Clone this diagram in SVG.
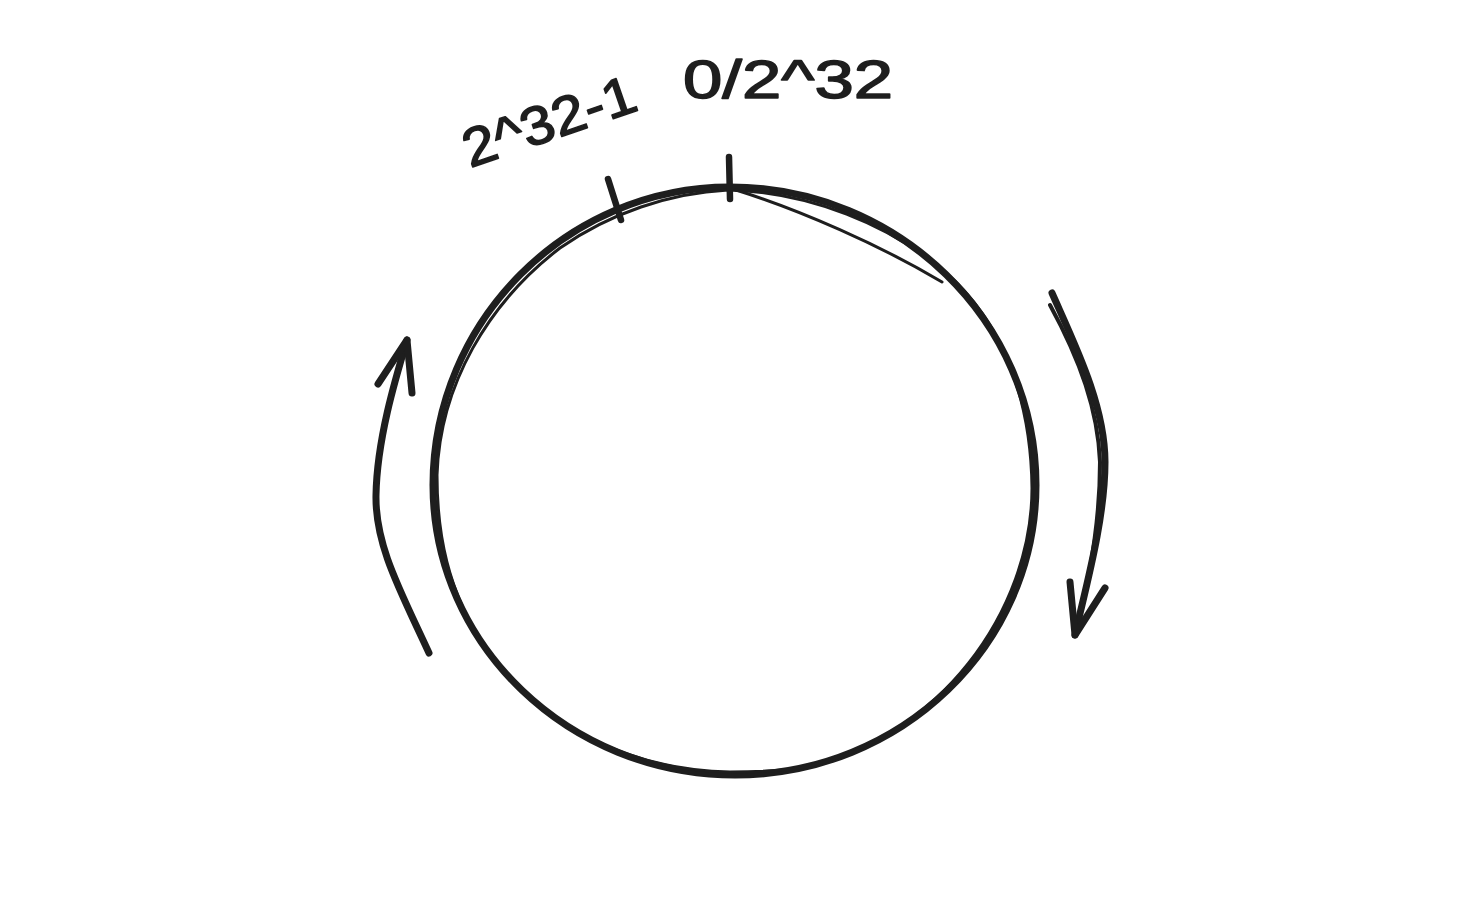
<svg xmlns="http://www.w3.org/2000/svg" width="1484" height="898" viewBox="0 0 1484 898">
<style>
.s{fill:none;stroke:#1e1e1e;stroke-linecap:round;stroke-linejoin:round}
.t{font-family:"Liberation Sans","DejaVu Sans",sans-serif;font-size:54px;fill:#1e1e1e;stroke:#1e1e1e;stroke-width:1.5px;stroke-linejoin:round}
</style>
<rect width="1484" height="898" fill="#ffffff"/>
<g id="ring">
<path class="s" stroke-width="7" d="M 730 187 C 898 187, 1036 321, 1036 485 C 1036 645, 901 775, 735 775 C 569 775, 433 645, 433 485 C 433 321, 567 187, 730 187 Z"/>
<path class="s" stroke-width="3" d="M 728 190 C 810 192, 890 225, 945 272 C 1003 322, 1031 400, 1032 488 C 1032 610, 940 740, 800 768 C 780 771, 755 772, 730 772 C 625 770, 535 722, 483 645 C 448 590, 437 535, 437 475 C 440 385, 488 303, 560 248 C 610 213, 670 193, 728 190"/>
<path class="s" stroke-width="3" d="M 736 190 C 800 210, 880 245, 942 282"/>
</g>
<g id="tick-max">
<path class="s" stroke-width="6.5" d="M 608 179 L 621 220"/>
</g>
<g id="tick-zero">
<path class="s" stroke-width="6.5" d="M 729 157 L 730 199"/>
</g>
<g id="label-max">
<text class="t" x="470" y="168" textLength="180" lengthAdjust="spacingAndGlyphs" transform="rotate(-19 470 168)">2^32-1</text>
</g>
<g id="label-zero">
<text class="t" x="683" y="98" textLength="210" lengthAdjust="spacingAndGlyphs">0/2^32</text>
</g>
<g id="connectors">
<path class="s" stroke-width="7" d="M 429 653 C 400 590, 375 545, 376 495 C 377 440, 395 380, 407 340"/>
<path class="s" stroke-width="7" d="M 378 384 L 407 340 L 412 393"/>
<path class="s" stroke-width="7" d="M 1052 293 C 1075 345, 1105 405, 1105 462 C 1105 520, 1085 590, 1075 635"/>
<path class="s" stroke-width="4" d="M 1050 305 C 1080 360, 1098 410, 1100 462 C 1100 525, 1087 590, 1075 635"/>
<path class="s" stroke-width="7" d="M 1070 582 L 1075 635 L 1105 588"/>
</g>
</svg>
